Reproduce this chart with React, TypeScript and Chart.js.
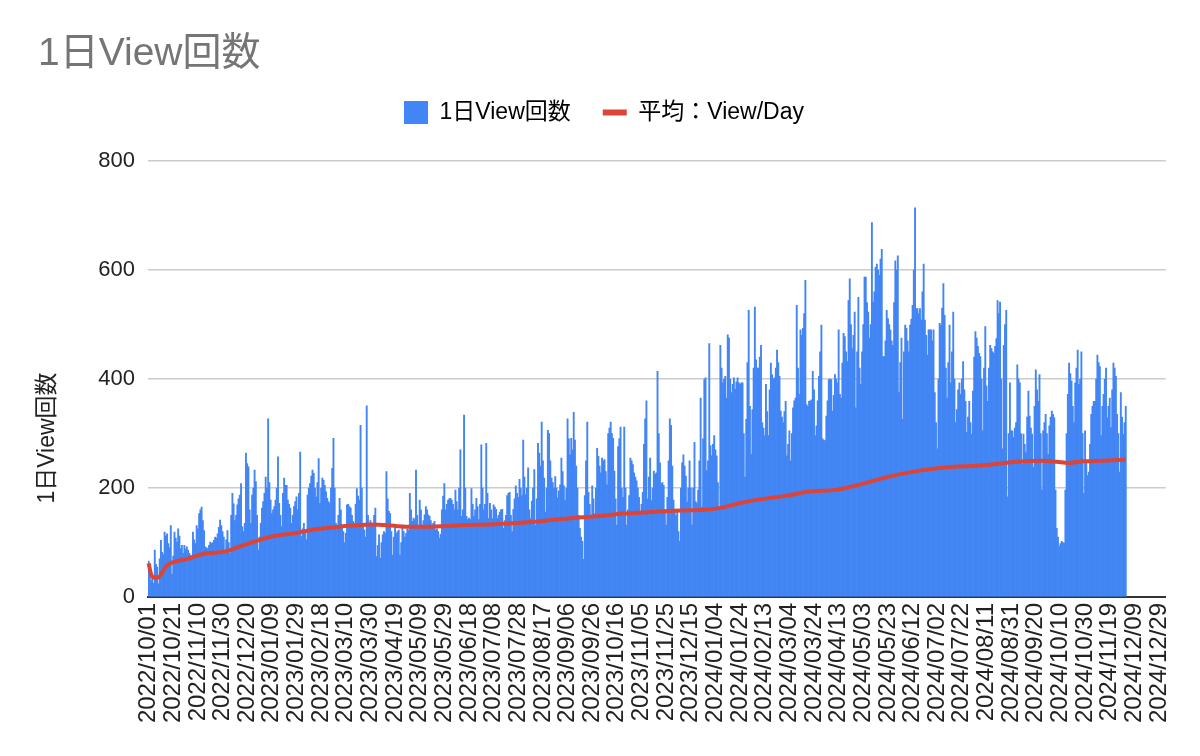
import { useEffect, useRef } from 'react';
import { Chart, registerables } from 'chart.js';

Chart.register(...registerables);

const chartTitle = '1日View回数';
const barLabel = '1日View回数';
const lineLabel = '平均：View/Day';
const yAxisTitle = '1日View回数';

// x axis: one category per day from 2022/10/01, ticks every 20 days up to 2024/12/29
const startDate = [2022, 10, 1];
const axisDayCount = 826;
const tickEvery = 20;
const yTicks = [0, 200, 400, 600, 800];

// daily views
const views2022Q4 = [66, 48, 30, 40, 25, 86, 60, 55, 24, 70,
    104, 82, 78, 119, 112, 116, 98, 90, 131, 42,
    75, 119, 108, 101, 125, 112, 89, 95, 80, 95,
    88, 92, 86, 80, 77, 70, 119, 105, 98, 131,
    125, 153, 160, 165, 140, 122, 92, 90, 89, 95,
    101, 98, 100, 104, 110, 108, 116, 128, 141, 131,
    120, 110, 80, 105, 122, 100, 80, 150, 190, 171,
    140, 150, 169, 180, 187, 208, 129, 120, 135, 264,
    245, 239, 160, 135, 187, 200, 233, 212, 150, 86,
    110, 135];
const views2023Q1 = [163, 175, 190, 220, 200, 327, 210, 178,
    153, 160, 166, 178, 200, 257, 172, 150, 129, 190,
    218, 205, 205, 178, 170, 163, 135, 150, 166, 175,
    184, 160, 190, 266, 111, 125, 135, 120, 105, 187,
    200, 208, 222, 233, 227, 200, 184, 210, 254, 172,
    200, 218, 214, 205, 193, 181, 175, 172, 200, 236,
    291, 200, 135, 129, 150, 181, 160, 129, 120, 100,
    117, 169, 170, 166, 163, 150, 139, 135, 170, 199,
    185, 178, 315, 200, 135, 123, 110, 351, 150, 135,
    140, 135];
const views2023Q2 = [129, 150, 163, 74, 95, 114, 71, 100,
    114, 120, 117, 230, 180, 157, 153, 120, 77, 110,
    129, 117, 120, 123, 77, 100, 132, 120, 110, 117,
    125, 123, 190, 160, 139, 145, 142, 233, 150, 129,
    178, 160, 132, 140, 151, 166, 160, 151, 148, 140,
    132, 135, 139, 123, 125, 120, 108, 115, 160, 185,
    208, 160, 170, 178, 180, 181, 178, 170, 160, 196,
    175, 160, 200, 270, 148, 160, 334, 200, 148, 142,
    145, 142, 199, 170, 148, 160, 181, 166, 142, 170,
    279, 200, 160];
const views2023Q3 = [170, 282, 190, 144, 172, 160, 144,
    169, 165, 161, 144, 150, 156, 160, 161, 126, 140,
    150, 186, 190, 192, 150, 120, 161, 180, 204, 190,
    183, 216, 200, 186, 288, 220, 188, 200, 237, 160,
    144, 176, 200, 234, 132, 180, 282, 264, 240, 321,
    250, 218, 156, 200, 306, 300, 250, 218, 210, 200,
    221, 200, 182, 195, 206, 255, 230, 204, 177, 200,
    327, 290, 261, 291, 270, 339, 288, 240, 200, 150,
    126, 110, 102, 69, 186, 250, 321, 192, 170, 150,
    204, 180, 153, 200, 273];
const views2023Q4 = [258, 240, 228, 255, 250,
    252, 230, 206, 300, 310, 321, 300, 291, 231, 180,
    132, 276, 290, 312, 200, 183, 312, 200, 132, 160,
    186, 255, 250, 243, 228, 220, 213, 200, 183, 153,
    170, 192, 280, 327, 360, 180, 220, 255, 177, 200,
    231, 225, 228, 414, 300, 246, 208, 210, 205, 160,
    132, 183, 250, 327, 315, 240, 178, 160, 150, 156,
    120, 102, 200, 246, 261, 240, 222, 174, 200, 250,
    200, 132, 200, 284, 175, 172, 196, 250, 365, 165,
    290, 399, 402, 232, 250, 465, 278];
const views2024Q1 = [259, 280, 296, 270, 259, 210, 165, 462, 420, 393, 400, 405, 365,
    481, 475, 400, 375, 390, 402, 381, 395, 402, 393,
    390, 393, 393, 300, 220, 326, 430, 526, 350, 262,
    344, 420, 532, 435, 420, 420, 440, 462, 320, 310,
    296, 390, 340, 296, 380, 429, 408, 400, 402, 420,
    453, 430, 405, 341, 330, 320, 340, 359, 259, 280,
    305, 250, 300, 347, 360, 365, 535, 420, 372, 490,
    480, 493, 520, 581, 353, 350, 359, 360, 362, 414,
    380, 296, 314, 360, 405, 450, 499, 290];
const views2024Q2 = [288, 287,
    332, 360, 399, 400, 399, 341, 370, 408, 400, 393,
    490, 372, 365, 429, 484, 478, 450, 432, 544, 584,
    500, 456, 480, 523, 347, 450, 550, 420, 390, 450,
    500, 587, 587, 540, 523, 475, 500, 687, 541, 560,
    605, 611, 600, 590, 620, 638, 441, 441, 470, 526,
    511, 500, 490, 470, 462, 540, 617, 600, 626, 375,
    430, 475, 326, 450, 499, 493, 470, 450, 499, 510,
    535, 600, 714, 529, 529, 520, 529, 508, 560, 611,
    508, 480, 444, 490, 490, 490, 470, 490, 375];
const views2024Q3 = [320,
    272, 400, 502, 499, 530, 575, 517, 420, 365, 430,
    499, 393, 450, 523, 400, 320, 344, 380, 393, 372,
    400, 432, 380, 359, 302, 330, 359, 320, 299, 378,
    440, 487, 475, 460, 447, 441, 400, 305, 420, 496,
    387, 359, 420, 462, 456, 450, 447, 460, 474, 544,
    520, 541, 400, 272, 462, 500, 526, 184, 300, 393,
    305, 305, 293, 310, 320, 426, 400, 393, 300, 244,
    299, 280, 265, 330, 378, 332, 310, 299, 238, 350,
    417, 380, 359, 408, 300, 196, 305, 320, 335, 300,
    262];
const views2024Q4 = [314, 330, 341, 335, 329, 196, 126, 110, 93,
    98, 102, 100, 99, 196, 300, 372, 429, 410, 396,
    350, 320, 393, 420, 453, 390, 400, 450, 300, 190,
    305, 250, 223, 229, 280, 335, 350, 359, 359, 400,
    444, 430, 423, 296, 350, 372, 400, 420, 329, 350,
    365, 311, 380, 429, 420, 405, 335, 300, 229, 375,
    330, 299, 320, 350];

// running average, read at these day offsets from 2022/10/01
const avgDayOffsets = [0, 2, 4, 8, 11, 14, 19, 25, 30, 38, 46, 54, 65, 73, 81, 89, 100,
    111, 121, 132, 143, 154, 165, 181, 191, 202, 213, 229, 240, 256, 276, 292, 314,
    330, 349, 368, 384, 400, 422, 440, 452, 465, 481, 502, 518, 535, 559, 575, 599,
    623, 648, 672, 688, 704, 726, 737, 747, 758, 774, 793];
const avgValues = [62, 42, 36, 36, 45, 56, 63, 67, 69, 75, 80, 81, 85, 92, 98, 104, 111,
    115, 118, 123, 126, 129, 131, 133, 132, 130, 129, 129, 130, 132, 133, 135, 138,
    142, 146, 149, 153, 155, 158, 159, 160, 164, 173, 181, 186, 193, 197, 205, 220,
    231, 238, 241, 244, 248, 250, 248, 246, 249, 250, 252];

const dailyViews = [
    ...views2022Q4, ...views2023Q1, ...views2023Q2, ...views2023Q3,
    ...views2023Q4, ...views2024Q1, ...views2024Q2, ...views2024Q3, ...views2024Q4,
];

const pad = (n: number) => String(n).padStart(2, '0');
const dateLabels: string[] = [];
for (let i = 0; i < axisDayCount; i++) {
    const d = new Date(Date.UTC(startDate[0], startDate[1] - 1, startDate[2] + i));
    dateLabels.push(`${d.getUTCFullYear()}/${pad(d.getUTCMonth() + 1)}/${pad(d.getUTCDate())}`);
}

const avgSeries: (number | null)[] = dateLabels.map(() => null);
avgDayOffsets.forEach((day, i) => { avgSeries[day] = avgValues[i]; });

const BLUE = '#4285F4';
const RED = '#DB4437';
const FONT = '"Liberation Sans", "Noto Sans CJK JP", sans-serif';

// y axis title sits lower than the plot centre, like the sheet export
const yTitlePlugin = {
    id: 'yTitle',
    afterDraw(chart: any) {
        const { ctx, chartArea } = chart;
        ctx.save();
        ctx.translate(48, (chartArea.top + chartArea.bottom) / 2 + 59);
        ctx.rotate(-Math.PI / 2);
        ctx.font = `23px ${FONT}`;
        ctx.fillStyle = '#222';
        ctx.textAlign = 'center';
        ctx.textBaseline = 'middle';
        ctx.fillText(yAxisTitle, 0, 0);
        ctx.restore();
    },
};

// extra room between the legend and the plot
const legendGapPlugin = {
    id: 'legendGap',
    beforeLayout(chart: any) {
        const legend = chart.legend;
        if (legend && !legend._gapPatched) {
            const fit = legend.fit.bind(legend);
            legend.fit = () => { fit(); legend.height += 27; };
            legend._gapPatched = true;
        }
    },
};

const ViewsChart = () => {
    const chartRef = useRef<HTMLCanvasElement>(null);

    useEffect(() => {
        if (!chartRef.current) return;
        Chart.defaults.font.family = FONT;

        const myChart = new Chart(chartRef.current, {
            type: 'bar',
            data: {
                labels: dateLabels,
                datasets: [
                    {
                        type: 'bar',
                        label: barLabel,
                        data: dailyViews,
                        backgroundColor: BLUE,
                        barPercentage: 1,
                        categoryPercentage: 1,
                        order: 1,
                    },
                    {
                        type: 'line',
                        label: lineLabel,
                        data: avgSeries,
                        borderColor: RED,
                        borderWidth: 4,
                        pointRadius: 0,
                        spanGaps: true,
                        cubicInterpolationMode: 'monotone',
                        order: 0,
                    },
                ],
            } as any,
            options: {
                responsive: false,
                animation: false,
                layout: { padding: { left: 38, right: 30, top: 0, bottom: 0 } },
                plugins: {
                    tooltip: { enabled: false },
                    title: {
                        display: true,
                        text: chartTitle,
                        align: 'start',
                        color: '#757575',
                        font: { size: 39, weight: 'normal', lineHeight: 1 },
                        padding: { top: 35, bottom: -5 },
                    },
                    legend: {
                        display: true,
                        labels: {
                            usePointStyle: true,
                            pointStyleWidth: 24,
                            padding: 32,
                            color: '#222',
                            font: { size: 23 },
                            generateLabels: () => [
                                { text: barLabel, fillStyle: BLUE, strokeStyle: BLUE, lineWidth: 0, pointStyle: 'rect', hidden: false, datasetIndex: 0 },
                                { text: lineLabel, fillStyle: RED, strokeStyle: RED, lineWidth: 6, pointStyle: 'line', hidden: false, datasetIndex: 1 },
                            ],
                        },
                    },
                },
                scales: {
                    x: {
                        grid: { display: false, drawTicks: false },
                        border: { display: true, color: '#333', width: 2 },
                        afterFit: (scale: any) => { scale.height = 159; },
                        ticks: {
                            autoSkip: false,
                            minRotation: 90,
                            maxRotation: 90,
                            padding: 6,
                            color: '#222',
                            font: { size: 24 },
                            callback: (_v: any, index: number) => (index % tickEvery === 0 ? dateLabels[index] : ''),
                        },
                    },
                    y: {
                        min: yTicks[0],
                        max: yTicks[yTicks.length - 1],
                        grid: { color: '#cccccc', lineWidth: 1.5, drawTicks: false },
                        border: { display: false },
                        afterFit: (scale: any) => { scale.width = 110; },
                        ticks: {
                            stepSize: yTicks[1] - yTicks[0],
                            padding: 13,
                            color: '#222',
                            font: { size: 22 },
                        },
                    },
                },
            },
            plugins: [legendGapPlugin, yTitlePlugin],
        });

        return () => {
            myChart.destroy();
        };
    }, []);

    return (
        <div style={{ position: 'fixed', left: 0, top: 0, width: 1200, height: 756, background: '#fff' }}>
            <canvas ref={chartRef} width={1200} height={756}></canvas>
        </div>
    );
};

export default function App() {
    return <ViewsChart />;
}
